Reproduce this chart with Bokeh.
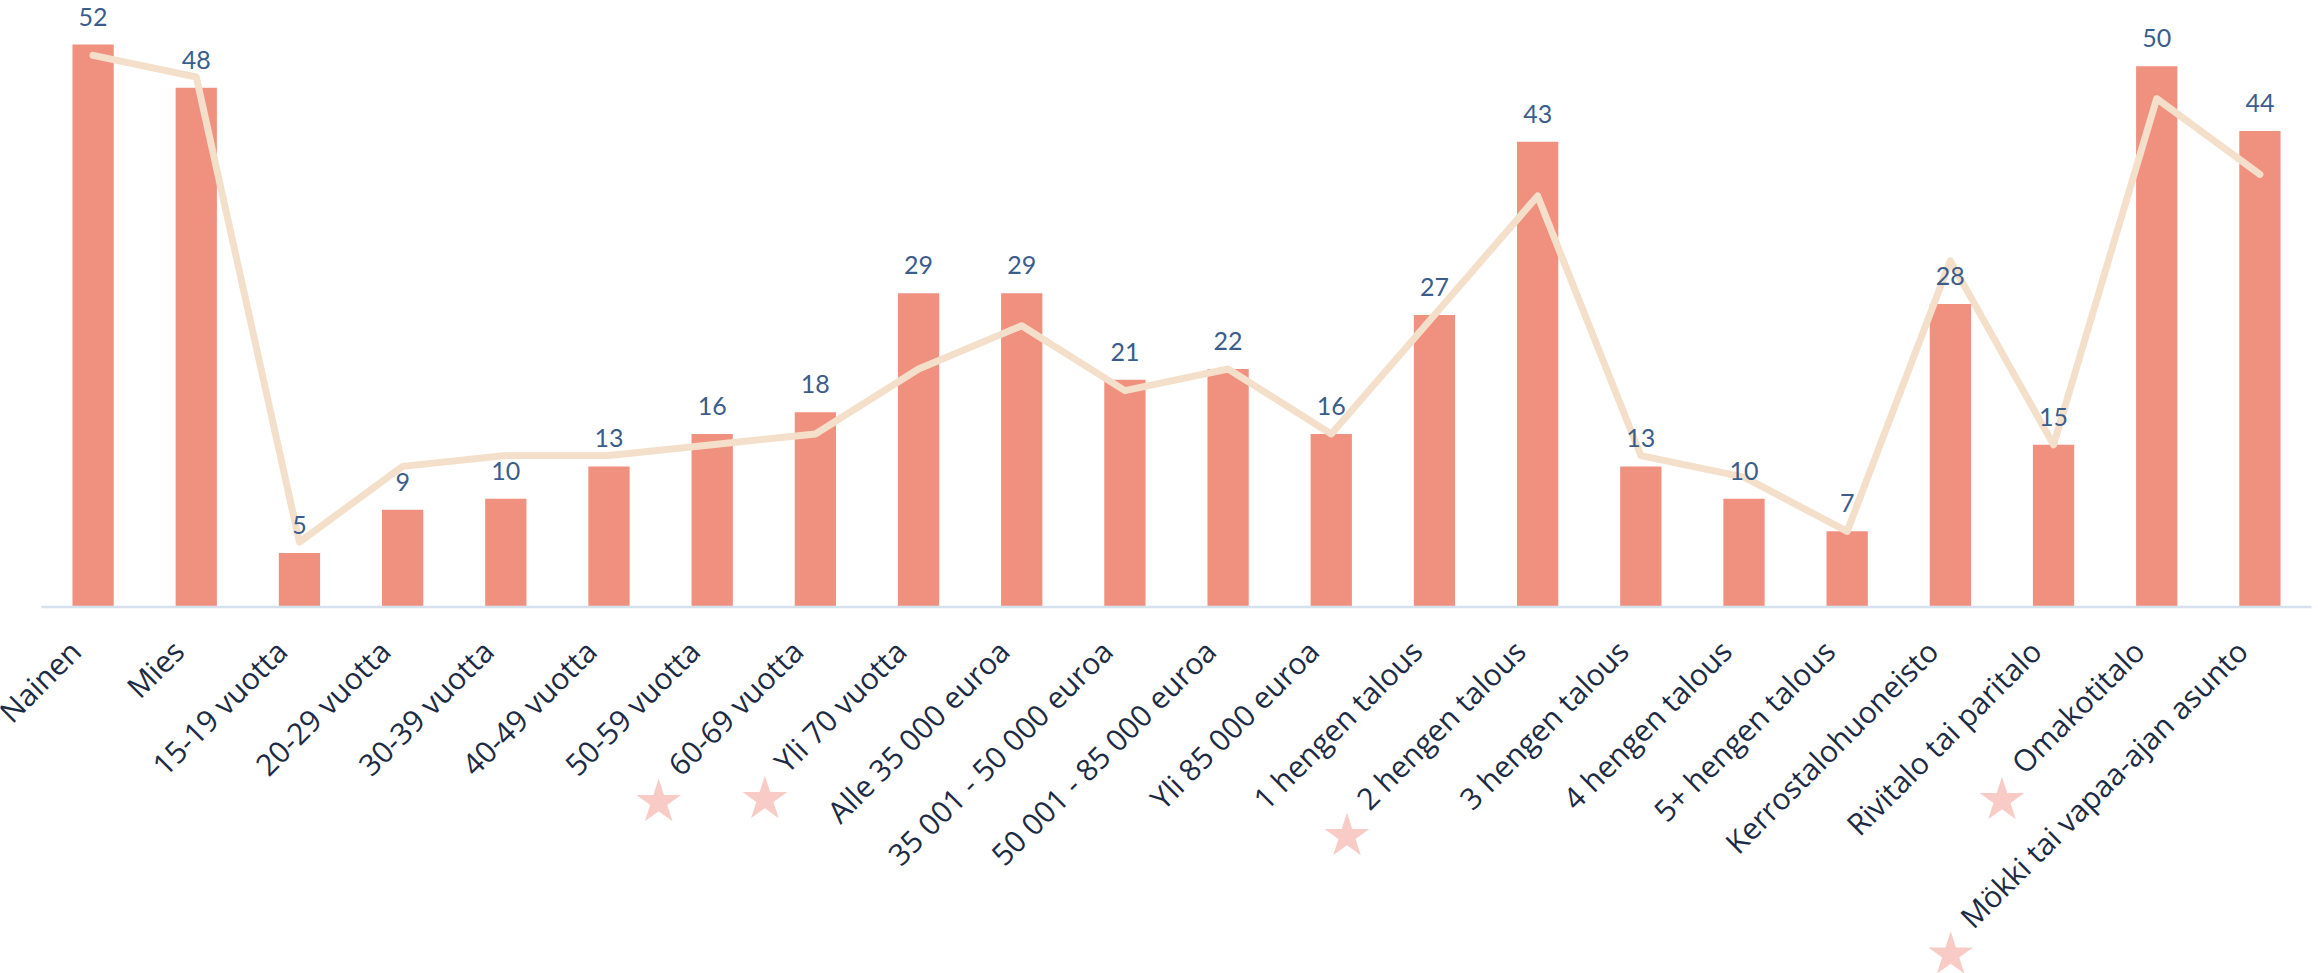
import math
import subprocess

from bokeh.plotting import figure
from bokeh.models import ColumnDataSource, Range1d
from bokeh.core.properties import value
from bokeh.embed import file_html
from bokeh.resources import INLINE

# ---------------- data ----------------
categories = [
    "Nainen", "Mies",
    "15-19 vuotta", "20-29 vuotta", "30-39 vuotta", "40-49 vuotta",
    "50-59 vuotta", "60-69 vuotta", "Yli 70 vuotta",
    "Alle 35 000 euroa", "35 001 - 50 000 euroa", "50 001 - 85 000 euroa",
    "Yli 85 000 euroa",
    "1 hengen talous", "2 hengen talous", "3 hengen talous",
    "4 hengen talous", "5+ hengen talous",
    "Kerrostalohuoneisto", "Rivitalo tai paritalo", "Omakotitalo",
    "Mökki tai vapaa-ajan asunto",
]
bar_values = [52, 48, 5, 9, 10, 13, 16, 18, 29, 29, 21, 22, 16, 27, 43, 13, 10, 7, 28, 15, 50, 44]
line_values = [51, 49, 6, 13, 14, 14, 15, 16, 22, 26, 20, 22, 16, 27, 38, 14, 12, 7, 32, 15, 47, 40]
starred = ["60-69 vuotta", "Yli 70 vuotta", "2 hengen talous", "Omakotitalo",
           "Mökki tai vapaa-ajan asunto"]

# ---------------- style / layout ----------------
BAR_COLOR = "#F09180"
LINE_COLOR = "#F4E0CA"
AXIS_COLOR = "#D6E1EE"
VALUE_COLOR = "#3A5D8C"
LABEL_COLOR = "#1C2B45"
STAR_COLOR = "#F9CBC6"
LABEL_FONT = "Open Sans"
LABEL_SIZE = 30
VALUE_FONT = "Lato"
VALUE_SIZE = 25

W, H = 2318, 973
PLOT_LEFT, PLOT_RIGHT = 41, 2311          # where the category band starts / ends
n = len(categories)
px_per_cat = (PLOT_RIGHT - PLOT_LEFT) / n
x_start = -0.5 - PLOT_LEFT / px_per_cat
x_end = x_start + W / px_per_cat
base_px = 606.5                             # baseline distance from the top
px_per_unit = 10.817
y_top = base_px / px_per_unit
y_bot = -(H - base_px) / px_per_unit


def text_width(s, size):
    try:
        from PIL import ImageFont
        path = subprocess.run(["fc-match", "-f", "%{file}", LABEL_FONT],
                              capture_output=True, text=True, timeout=10).stdout.strip()
        f = ImageFont.truetype(path, size)
        return float(f.getlength(s))
    except Exception:
        widths = {" ": 0.26, "i": 0.26, "l": 0.26, "j": 0.26, "t": 0.35, "-": 0.32,
                  "M": 0.89, "m": 0.93, "O": 0.78, "Y": 0.55, "K": 0.6, "R": 0.62}
        return sum(widths.get(c, 0.57) for c in s) * size


p = figure(
    width=W, height=H,
    x_range=Range1d(x_start, x_end),
    y_range=Range1d(y_bot, y_top),
    output_backend="svg", toolbar_location=None,
    x_axis_location=None, y_axis_location=None,
    min_border_left=0, min_border_right=0, min_border_top=0, min_border_bottom=0,
    outline_line_color=None,
)
p.grid.visible = False

idx = list(range(n))
lab_y = -38.5 / px_per_unit
lab_dx = -18 / px_per_cat

src = ColumnDataSource(dict(
    x=idx,
    cat=categories,
    val=bar_values,
    line=line_values,
    lab=[str(v) for v in bar_values],
    lab_y=[v + 28 / px_per_unit for v in bar_values],
    cat_x=[i + lab_dx for i in idx],
))

p.vbar(x="x", top="val", width=0.4, source=src, fill_color=BAR_COLOR, line_color=None)

# category axis line
p.line(x=[-0.5, n - 0.5], y=[0, 0], line_color=AXIS_COLOR, line_width=2.5)

p.line(x="x", y="line", source=src, line_color=LINE_COLOR, line_width=7,
       line_cap="round", line_join="round")

p.text(x="x", y="lab_y", text="lab", source=src, text_align="center",
       text_baseline="middle", text_font=value(VALUE_FONT),
       text_font_size=f"{VALUE_SIZE}px", text_color=VALUE_COLOR)

# rotated category labels
p.text(x="cat_x", y=lab_y, text="cat", source=src, angle=math.pi / 4,
       text_align="right", text_baseline="middle",
       text_font=value(LABEL_FONT), text_font_size=f"{LABEL_SIZE}px",
       text_color=LABEL_COLOR)

# stars in front of highlighted labels
sx, sy = [], []
for c in starred:
    d = text_width(c, LABEL_SIZE) + 46
    sx.append(categories.index(c) - d * math.cos(math.pi / 4) / px_per_cat)
    sy.append(lab_y - d * math.sin(math.pi / 4) / px_per_unit)
p.scatter(x=sx, y=sy, marker="star", size=47, fill_color=STAR_COLOR, line_color=None)

open("out.html", "w").write(file_html(p, INLINE))
